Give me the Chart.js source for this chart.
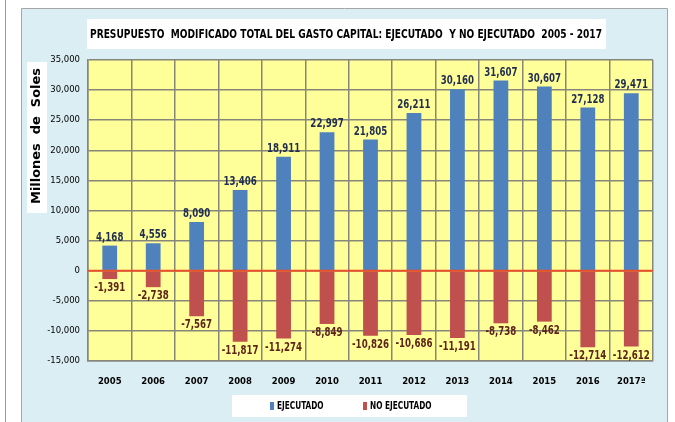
<!DOCTYPE html>
<html>
<head>
<meta charset="utf-8">
<script src="https://cdn.jsdelivr.net/npm/chart.js@4"></script>
<style>
  html,body{margin:0;padding:0;background:#fff;}
  #wrap{width:675px;height:422px;position:relative;}
</style>
</head>
<body>
<div id="wrap"><canvas id="gasto" width="675" height="422"></canvas></div>
<script>
// data
const years = ['2005','2006','2007','2008','2009','2010','2011','2012','2013','2014','2015','2016','2017ª'];
const ejecutado = [4168,4556,8090,13406,18911,22997,21805,26211,30160,31607,30607,27128,29471];
const noEjecutado = [-1391,-2738,-7567,-11817,-11274,-8849,-10826,-10686,-11191,-8738,-8462,-12714,-12612];
const yTicks = [35000,30000,25000,20000,15000,10000,5000,0,-5000,-10000,-15000];

const FONT = '"DejaVu Sans",sans-serif';
const fmt = v => (v<0?'-':'') + Math.abs(v).toLocaleString('en-US');

// text squeezed horizontally (the original uses a narrow font)
function narrowText(g,txt,x,y,sx){
  g.save(); g.translate(x,y); g.scale(sx,1); g.fillText(txt,0,0); g.restore();
}

const frame = {
  id:'frame',
  beforeDraw(c){
    const g=c.ctx, a=c.chartArea;
    g.save();
    g.fillStyle='#fff'; g.fillRect(0,0,675,422);
    g.strokeStyle='#9a9a9a'; g.lineWidth=1;
    g.beginPath(); g.moveTo(5.5,0); g.lineTo(5.5,422); g.stroke();
    g.fillStyle='#dbeef4'; g.fillRect(21,8,646,414);
    g.strokeStyle='#a6a6a6';
    g.beginPath(); g.moveTo(21.5,422); g.lineTo(21.5,8.5); g.lineTo(667.5,8.5); g.lineTo(667.5,422); g.stroke();
    g.fillStyle='#ffff99'; g.fillRect(a.left,a.top,a.right-a.left,a.bottom-a.top);
    // title
    g.fillStyle='#fff'; g.fillRect(87,19,519,30);
    g.fillStyle='#000'; g.font='bold 12px '+FONT; g.textAlign='center'; g.textBaseline='middle';
    const t='PRESUPUESTO  MODIFICADO TOTAL DEL GASTO CAPITAL: EJECUTADO  Y NO EJECUTADO  2005 - 2017';
    narrowText(g,t,346,35,512/g.measureText(t).width);
    // y title
    g.fillStyle='#fff'; g.fillRect(27,62,20,151);
    g.translate(37,136); g.rotate(-Math.PI/2);
    g.fillStyle='#000'; g.font='bold 13px '+FONT;
    const yt='Millones  de  Soles';
    narrowText(g,yt,0,0,136/g.measureText(yt).width);
    g.restore();
    // legend
    g.save();
    g.fillStyle='#fff'; g.fillRect(232,395,235,22);
    g.font='bold 10.5px '+FONT; g.textBaseline='middle'; g.textAlign='left';
    g.fillStyle='#4f81bd'; g.fillRect(270,402,4,8);
    g.fillStyle='#000'; narrowText(g,'EJECUTADO',277,406,0.7);
    g.fillStyle='#c0504d'; g.fillRect(363,402,4,8);
    g.fillStyle='#000'; narrowText(g,'NO EJECUTADO',370,406,0.7);
    g.restore();
  }
};

// zero line and value labels on top of the bars
const labels = {
  id:'labels',
  afterDatasetsDraw(c){
    const g=c.ctx, a=c.chartArea, y0=c.scales.y.getPixelForValue(0);
    g.save();
    g.strokeStyle='#e8502a'; g.lineWidth=2;
    g.beginPath(); g.moveTo(a.left,y0); g.lineTo(a.right,y0); g.stroke();
    g.font='bold 12px '+FONT; g.textAlign='center';
    c.data.datasets.forEach((ds,i)=>{
      c.getDatasetMeta(i).data.forEach((bar,j)=>{
        const v=ds.data[j];
        if(v>=0){ g.fillStyle='#1f2d50'; g.textBaseline='bottom'; narrowText(g,fmt(v),bar.x,bar.y-2,0.72); }
        else { g.fillStyle='#5c2418'; g.textBaseline='top'; narrowText(g,fmt(v),bar.x,bar.y+3,0.72); }
      });
    });
    g.restore();
  }
};

new Chart(document.getElementById('gasto'),{
  type:'bar',
  data:{
    labels:years,
    datasets:[
      {label:'EJECUTADO',data:ejecutado,backgroundColor:'#4f81bd'},
      {label:'NO EJECUTADO',data:noEjecutado,backgroundColor:'#c0504d'}
    ]
  },
  options:{
    responsive:false, animation:false,
    layout:{padding:{top:60,right:22,left:0,bottom:0}},
    datasets:{bar:{barPercentage:0.34,categoryPercentage:1}},
    plugins:{legend:{display:false},tooltip:{enabled:false}},
    scales:{
      x:{
        stacked:true,
        afterFit:s=>{s.height=61;},
        grid:{color:'#86867a',lineWidth:1.5,offset:true,drawTicks:false},
        border:{color:'#86867a',width:1.5},
        ticks:{color:'#000',font:{family:FONT,size:8.5,weight:'bold'},padding:16,maxRotation:0}
      },
      y:{
        stacked:true, min:-15000, max:35000,
        afterFit:s=>{s.width=88;},
        afterBuildTicks:s=>{s.ticks=yTicks.map(v=>({value:v}));},
        grid:{color:'#86867a',lineWidth:1.5,drawTicks:false},
        border:{color:'#86867a',width:1.5},
        ticks:{color:'#000',font:{family:FONT,size:8.5},padding:8,callback:v=>fmt(v)}
      }
    }
  },
  plugins:[frame,labels]
});
</script>
</body>
</html>
